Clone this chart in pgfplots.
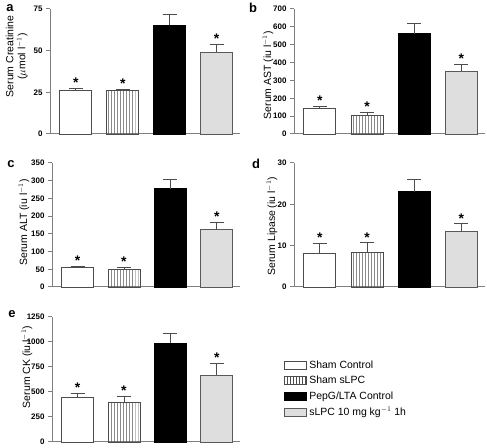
\documentclass[border=0pt]{standalone}
\usepackage{pgfplots}
\pgfplotsset{compat=1.18}
\usepackage{fontspec}
\setmainfont{Liberation Sans}
\usetikzlibrary{patterns}

\pgfplotsset{
  panel/.style={scale only axis, anchor=south west, xmin=-0.55, xmax=3.5, ymin=0,
    axis x line*=bottom, axis y line*=left,
    axis line style={-, draw=black!50, line width=1bp},
    xtick=\empty, tick align=outside, major tick length=4bp,
    ytick style={draw=black!50, line width=1bp},
    yticklabel style={font=\bfseries\fontsize{8}{9}\selectfont, /pgf/number format/assume math mode=true},
    /pgf/number format/1000 sep={},
    ylabel style={font=\fontsize{10.5}{12}\selectfont, align=center, anchor=center},
    clip=false},
  barbase/.style={ybar, bar width=32bp, bar shift=0pt, line width=0.9bp,
    error bars/y dir=plus, error bars/y explicit,
    error bars/error bar style={draw=black!70, line width=0.9bp, solid},
    error bars/error mark options={rotate=90, draw=black!70, line width=0.9bp, mark size=7bp}},
  bA/.style={barbase, fill=white, draw=black!70},
  bB/.style={barbase, draw=black!70, pattern=vertical lines, pattern color=black!70},
  bC/.style={barbase, fill=black, draw=black},
  bD/.style={barbase, fill=black!13, draw=black!65},
  stars/.style={draw=none, forget plot, nodes near coords={*},
    every node near coord/.style={anchor=south, inner sep=0.5bp, black, font=\bfseries\fontsize{14}{14}\selectfont}},
}

\begin{document}
\begin{tikzpicture}[x=1bp,y=1bp]
\useasboundingbox (0,0) rectangle (487,448);

% panel a
\begin{axis}[panel, at={(50bp,314bp)}, width=190bp, height=125bp, ymax=75, ytick={0,25,50,75},
  ylabel={Serum Creatinine\\($\mu$mol l$^{-1}$)}, ylabel style={at={(rel axis cs:-0.175,0.62)}}]
\addplot[bA] coordinates {(0,26.3) +- (0,1.2)};
\addplot[bB] coordinates {(1,26.1) +- (0,0.8)};
\addplot[bC] coordinates {(2,65.4) +- (0,6.4)};
\addplot[bD] coordinates {(3,48.9) +- (0,5.0)};
\addplot[stars] coordinates {(0,27.5) (1,26.9) (3,53.9)};
\end{axis}

% panel b
\begin{axis}[panel, at={(294bp,314bp)}, width=191bp, height=125bp, ymax=700, ytick={0,100,...,700},
  ylabel={Serum AST (iu l$^{-1}$)}, ylabel style={at={(rel axis cs:-0.136,0.47)}}]
\addplot[bA] coordinates {(0,141) +- (0,13.5)};
\addplot[bB] coordinates {(1,104) +- (0,17)};
\addplot[bC] coordinates {(2,562) +- (0,56)};
\addplot[bD] coordinates {(3,350) +- (0,39)};
\addplot[stars] coordinates {(0,154.5) (1,121) (3,389)};
\end{axis}

% panel c
\begin{axis}[panel, at={(52bp,161bp)}, width=188bp, height=124bp, ymax=350, ytick={0,50,...,350},
  ylabel={Serum ALT (iu l$^{-1}$)}, ylabel style={at={(rel axis cs:-0.149,0.52)}}]
\addplot[bA] coordinates {(0,54) +- (0,3.5)};
\addplot[bB] coordinates {(1,50.5) +- (0,4.1)};
\addplot[bC] coordinates {(2,278) +- (0,25)};
\addplot[bD] coordinates {(3,162) +- (0,20)};
\addplot[stars] coordinates {(0,57.5) (1,54.6) (3,182)};
\end{axis}

% panel d
\begin{axis}[panel, at={(294bp,161bp)}, width=191bp, height=124bp, ymax=30, ytick={0,10,20,30},
  ylabel={Serum Lipase (iu l$^{-1}$)}, ylabel style={at={(rel axis cs:-0.115,0.49)}}]
\addplot[bA] coordinates {(0,8.2) +- (0,2.3)};
\addplot[bB] coordinates {(1,8.4) +- (0,2.3)};
\addplot[bC] coordinates {(2,23.0) +- (0,2.9)};
\addplot[bD] coordinates {(3,13.4) +- (0,1.9)};
\addplot[stars] coordinates {(0,10.5) (1,10.7) (3,15.3)};
\end{axis}

% panel e
\begin{axis}[panel, at={(52bp,6bp)}, width=188bp, height=125bp, ymax=1250, ytick={0,250,...,1250},
  ylabel={Serum CK (iu l$^{-1}$)}, ylabel style={at={(rel axis cs:-0.133,0.6)}},
  legend style={at={(1.235,0.67)}, anchor=north west, draw=none, fill=none,
    font=\fontsize{10.5}{12}\selectfont, row sep=2.5bp, inner sep=0pt},
  legend cell align=left,
  legend image code/.code={\draw[#1] (0bp,-4bp) rectangle (22bp,4bp);}]
\addplot[bA] coordinates {(0,450) +- (0,37)};
\addlegendentry{Sham Control}
\addplot[bB] coordinates {(1,397) +- (0,60)};
\addlegendentry{Sham sLPC}
\addplot[bC] coordinates {(2,987) +- (0,96)};
\addlegendentry{PepG/LTA Control}
\addplot[bD] coordinates {(3,667) +- (0,120)};
\addlegendentry{sLPC 10 mg kg$^{-1}$ 1h}
\addplot[stars] coordinates {(0,487) (1,457) (3,787)};
\end{axis}

\node[font=\bfseries\fontsize{13}{13}\selectfont] at (10,440) {a};
\node[font=\bfseries\fontsize{13}{13}\selectfont] at (253,440) {b};
\node[font=\bfseries\fontsize{13}{13}\selectfont] at (11,284) {c};
\node[font=\bfseries\fontsize{13}{13}\selectfont] at (256,284) {d};
\node[font=\bfseries\fontsize{13}{13}\selectfont] at (12,134) {e};
\end{tikzpicture}
\end{document}
